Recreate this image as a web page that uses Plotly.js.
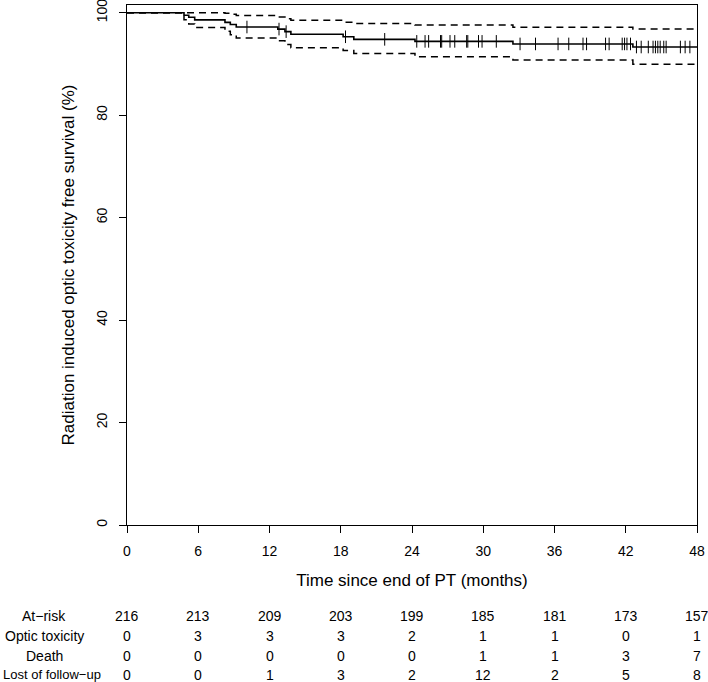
<!DOCTYPE html>
<html><head><meta charset="utf-8">
<script src="https://cdn.plot.ly/plotly-3.0.1.min.js"></script>
<style>html,body{margin:0;padding:0;background:#fff}#chart{width:708px;height:682px}</style>
</head><body><div id="chart"></div>
<script>
// Kaplan-Meier step curve (months, %)
const stepTimes = [0, 4.8, 5.2, 5.7, 8.25, 8.7, 9.2, 12.7, 13.3, 13.8, 18.2, 19.1, 24.25, 32.5, 42.6];
const survival  = [100, 99.5, 99.1, 98.6, 98.1, 97.7, 97.2, 96.8, 96.3, 95.8, 95.3, 94.8, 94.4, 93.9, 93.3];
const upperCI   = [100, 100, 100, 100, 99.9, 99.7, 99.45, 99.15, 98.8, 98.5, 98.15, 97.9, 97.6, 97.15, 96.8];
const lowerCI   = [100, 98.6, 97.8, 97.1, 96.4, 95.7, 95.05, 94.5, 93.8, 93.15, 92.6, 92.05, 91.4, 90.75, 89.95];
const endTime = 48;
const censorTimes = [10.1, 12.8, 13.4, 18.4, 21.7, 24.4, 25.1, 25.4, 26.4, 26.5, 27.2, 27.6, 28.6, 28.7,
  29.6, 29.9, 31.1, 33.1, 34.4, 36.3, 37.2, 38.4, 38.7, 40.3, 40.6, 41.7, 41.9, 42.1, 42.4,
  42.9, 43.3, 43.9, 44.3, 44.5, 44.7, 44.9, 45.2, 45.4, 46.6, 47.0, 47.4];

// Risk table
const tableTimes = [0, 6, 12, 18, 24, 30, 36, 42, 48];
const rowLabels = ["At\u2212risk", "Optic toxicity", "Death", "Lost of follow\u2212up"];
const atRisk = [216, 213, 209, 203, 199, 185, 181, 173, 157];
const opticTox = [0, 3, 3, 3, 2, 1, 1, 0, 1];
const deaths = [0, 0, 0, 0, 0, 1, 1, 3, 7];
const lostFU = [0, 0, 1, 3, 2, 12, 2, 5, 8];

const xTicks = [0, 6, 12, 18, 24, 30, 36, 42, 48];
const yTicks = [0, 20, 40, 60, 80, 100];

const FONT = "Liberation Sans, Arial, Helvetica, sans-serif";

function stepVal(t) {
  let v = survival[0];
  for (let i = 0; i < stepTimes.length; i++) if (stepTimes[i] <= t) v = survival[i];
  return v;
}
const ext = arr => arr.concat([arr[arr.length - 1]]);
const xs = stepTimes.concat([endTime]);

const traces = [
  {x: xs, y: ext(upperCI), mode: "lines", line: {shape: "hv", color: "#000", width: 1.5, dash: "7px,5px"}, hoverinfo: "skip"},
  {x: xs, y: ext(lowerCI), mode: "lines", line: {shape: "hv", color: "#000", width: 1.5, dash: "7px,5px"}, hoverinfo: "skip"},
  {x: xs, y: ext(survival), mode: "lines", line: {shape: "hv", color: "#000", width: 1.6}},
  {x: censorTimes, y: censorTimes.map(stepVal), mode: "markers",
   marker: {symbol: "line-ns-open", size: 9, color: "#000", line: {color: "#000", width: 1}}}
];

// plot area: 127..697 px horizontally, 5..525 px vertically
const plotLeft = 127, plotW = 570;
const plotTop = 5, plotBottom = 525;
const pyToPaper = py => (plotBottom - py) / (plotBottom - plotTop);
const pxToPaper = px => (px - plotLeft) / plotW;
const rowY = [616, 636, 655.5, 675];
const rows = [atRisk, opticTox, deaths, lostFU];

const annotations = [];
rowLabels.forEach((lab, r) => {
  const last = r === rowLabels.length - 1;
  annotations.push({text: lab, xref: "paper", yref: "paper",
    x: last ? pxToPaper(1) : pxToPaper(44), y: pyToPaper(rowY[r]),
    xanchor: last ? "left" : "center", yanchor: "middle", showarrow: false,
    font: {family: FONT, size: last ? 13 : 14, color: "#000"}});
  rows[r].forEach((v, i) => {
    annotations.push({text: String(v), xref: "x", yref: "paper", x: tableTimes[i], y: pyToPaper(rowY[r]),
      xanchor: "center", yanchor: "middle", showarrow: false, font: {family: FONT, size: 14, color: "#000"}});
  });
});

const layout = {
  width: 708, height: 682,
  margin: {l: plotLeft, r: 708 - plotLeft - plotW, t: plotTop, b: 682 - plotBottom},
  paper_bgcolor: "#fff", plot_bgcolor: "#fff",
  showlegend: false,
  font: {family: FONT, size: 14, color: "#000"},
  xaxis: {
    range: [0, 48], tickvals: xTicks, ticktext: xTicks.map(String),
    showgrid: false, zeroline: false, showline: true, mirror: true, linecolor: "#000", linewidth: 1,
    ticks: "outside", ticklen: 7, tickwidth: 1, tickcolor: "#000", ticklabelstandoff: 6,
    ticklabeloverflow: "allow",
    tickfont: {family: FONT, size: 14, color: "#000"},
    title: {text: "Time since end of PT (months)", font: {family: FONT, size: 17, color: "#000"}, standoff: 16},
    automargin: false, fixedrange: true
  },
  yaxis: {
    range: [0, 101.5], tickvals: yTicks, ticktext: yTicks.map(String), tickangle: -90,
    showgrid: false, zeroline: false, showline: true, mirror: true, linecolor: "#000", linewidth: 1,
    ticks: "outside", ticklen: 7, tickwidth: 1, tickcolor: "#000", ticklabelstandoff: 6,
    ticklabeloverflow: "allow",
    tickfont: {family: FONT, size: 14, color: "#000"},
    title: {text: "Radiation induced optic toxicity free survival (%)", font: {family: FONT, size: 17, color: "#000"}, standoff: 15},
    automargin: false, fixedrange: true
  },
  annotations: annotations
};

Plotly.newPlot("chart", traces, layout, {displayModeBar: false, staticPlot: true});
</script>
</body></html>
